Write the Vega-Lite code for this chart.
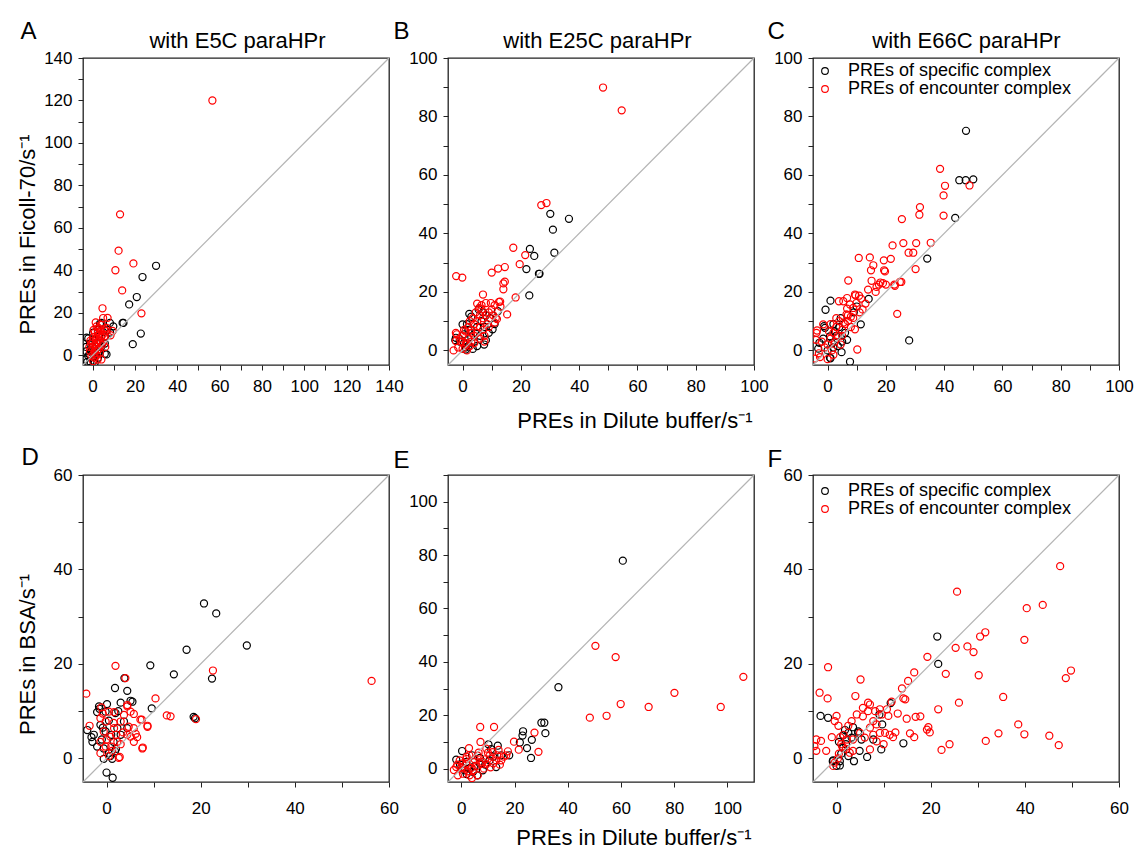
{
"$schema":"https://vega.github.io/schema/vega-lite/v6.json",
"background":"white",
"padding":{"left":15,"top":18,"right":0,"bottom":0},
"datasets":{
"A":[
{"x":30,"y":42.2,"t":"s"},{"x":23.6,"y":36.9,"t":"s"},{"x":20.9,"y":27.5,"t":"s"},{"x":17.3,"y":24,"t":"s"},{"x":14.6,"y":15.3,"t":"s"},{"x":14.2,"y":15.3,"t":"s"},{"x":22.8,"y":10.3,"t":"s"},{"x":19,"y":5.3,"t":"s"},{"x":8.3,"y":10.8,"t":"s"},{"x":5.8,"y":0.8,"t":"s"},{"x":3.5,"y":15,"t":"s"},{"x":-2.8,"y":8.4,"t":"s"},{"x":9.8,"y":13.7,"t":"s"},{"x":8.2,"y":15.3,"t":"s"},{"x":-2,"y":-0.3,"t":"s"},{"x":-3.6,"y":-1.9,"t":"s"},{"x":-2.9,"y":2,"t":"s"},{"x":-1.2,"y":5.6,"t":"s"},{"x":6.6,"y":0.5,"t":"s"},{"x":5.8,"y":5.6,"t":"s"},{"x":2.6,"y":-1.1,"t":"s"},{"x":0.3,"y":10.7,"t":"s"},{"x":4.2,"y":15.3,"t":"s"},{"x":-2,"y":8,"t":"s"},{"x":1,"y":3,"t":"s"},{"x":0,"y":1,"t":"s"},{"x":2,"y":6,"t":"s"},{"x":3,"y":9,"t":"s"},{"x":-1,"y":-3,"t":"s"},{"x":0.5,"y":-2.5,"t":"s"},{"x":1.5,"y":0.5,"t":"s"},{"x":4,"y":4,"t":"s"},{"x":2.5,"y":12,"t":"s"},{"x":-0.5,"y":2,"t":"s"},{"x":1,"y":7.5,"t":"s"},{"x":6,"y":9,"t":"s"},{"x":7,"y":12,"t":"s"},{"x":3,"y":1.5,"t":"s"},{"x":-3,"y":4,"t":"s"},{"x":-1.5,"y":0.5,"t":"s"},{"x":0,"y":4,"t":"s"},{"x":5,"y":11,"t":"s"},{"x":-2.5,"y":-3,"t":"s"},{"x":1,"y":-3.5,"t":"s"},{"x":3.5,"y":7,"t":"s"},
{"x":56.6,"y":120,"t":"e"},{"x":13,"y":66.4,"t":"e"},{"x":12.3,"y":49.3,"t":"e"},{"x":10.8,"y":40.1,"t":"e"},{"x":19.3,"y":43.3,"t":"e"},{"x":14,"y":30.6,"t":"e"},{"x":23.1,"y":19.8,"t":"e"},{"x":4.7,"y":22.2,"t":"e"},{"x":7.1,"y":17.7,"t":"e"},{"x":5,"y":17.6,"t":"e"},{"x":1.9,"y":13.7,"t":"e"},{"x":4.2,"y":14.4,"t":"e"},{"x":6.6,"y":13,"t":"e"},{"x":3.4,"y":12.2,"t":"e"},{"x":1.1,"y":10.8,"t":"e"},{"x":0.3,"y":8.5,"t":"e"},{"x":1.9,"y":6.2,"t":"e"},{"x":1.1,"y":2,"t":"e"},{"x":-0.5,"y":-0.3,"t":"e"},{"x":3.5,"y":1.3,"t":"e"},{"x":4.2,"y":-1.9,"t":"e"},{"x":5,"y":6,"t":"e"},{"x":5.8,"y":9.1,"t":"e"},{"x":6.6,"y":11.4,"t":"e"},{"x":-0.5,"y":5.6,"t":"e"},{"x":2.6,"y":9.3,"t":"e"},{"x":-1.2,"y":2,"t":"e"},{"x":0.3,"y":-2.7,"t":"e"},{"x":2,"y":4,"t":"e"},{"x":3,"y":7,"t":"e"},{"x":1,"y":1,"t":"e"},{"x":2.5,"y":11,"t":"e"},{"x":4,"y":8.5,"t":"e"},{"x":0,"y":3.5,"t":"e"},{"x":1.5,"y":8,"t":"e"},{"x":3,"y":3,"t":"e"},{"x":0.5,"y":12,"t":"e"},{"x":2,"y":0,"t":"e"},{"x":-1,"y":7,"t":"e"},{"x":4.5,"y":5,"t":"e"},{"x":5.5,"y":12.5,"t":"e"},{"x":1,"y":5,"t":"e"},{"x":3.5,"y":10,"t":"e"},{"x":2.2,"y":2.5,"t":"e"},{"x":0.8,"y":-1,"t":"e"},{"x":-1.5,"y":4,"t":"e"},{"x":2.8,"y":13,"t":"e"},{"x":9.5,"y":11.5,"t":"e"},{"x":8.5,"y":9.5,"t":"e"},{"x":6,"y":4,"t":"e"},{"x":1.5,"y":15.5,"t":"e"},{"x":3.8,"y":5.8,"t":"e"},{"x":0.2,"y":6.8,"t":"e"},{"x":2.4,"y":-2,"t":"e"},{"x":4.8,"y":9.8,"t":"e"}
],
"B":[
{"x":30.1,"y":46.7,"t":"s"},{"x":36.5,"y":45,"t":"s"},{"x":31,"y":41.3,"t":"s"},{"x":23.1,"y":34.7,"t":"s"},{"x":24.6,"y":32.3,"t":"s"},{"x":31.5,"y":33.4,"t":"s"},{"x":21.9,"y":27.8,"t":"s"},{"x":26.2,"y":26.2,"t":"s"},{"x":26.4,"y":26.2,"t":"s"},{"x":22.9,"y":18.8,"t":"s"},{"x":12.1,"y":13.4,"t":"s"},{"x":2.3,"y":12.5,"t":"s"},{"x":0,"y":8.9,"t":"s"},{"x":-2.3,"y":4.3,"t":"s"},{"x":4.5,"y":6,"t":"s"},{"x":10.3,"y":7.2,"t":"s"},{"x":7.4,"y":2,"t":"s"},{"x":1.1,"y":0.3,"t":"s"},{"x":1.5,"y":9,"t":"s"},{"x":3,"y":11.5,"t":"s"},{"x":5,"y":8,"t":"s"},{"x":6,"y":5,"t":"s"},{"x":8,"y":3.5,"t":"s"},{"x":9,"y":6,"t":"s"},{"x":11,"y":9,"t":"s"},{"x":2,"y":1.5,"t":"s"},{"x":3.5,"y":0.5,"t":"s"},{"x":0.5,"y":2.5,"t":"s"},{"x":-1,"y":3,"t":"s"},{"x":4,"y":3,"t":"s"},{"x":6.5,"y":10,"t":"s"},{"x":8,"y":12,"t":"s"},{"x":7,"y":13,"t":"s"},{"x":0.5,"y":5.5,"t":"s"},{"x":2,"y":7,"t":"s"},{"x":5,"y":1.5,"t":"s"},{"x":3,"y":4.5,"t":"s"},{"x":1,"y":1,"t":"s"},{"x":-2.5,"y":3.5,"t":"s"},{"x":9.5,"y":11,"t":"s"},{"x":5.5,"y":14,"t":"s"},{"x":7.5,"y":8,"t":"s"},
{"x":48.2,"y":89.9,"t":"e"},{"x":54.6,"y":82.1,"t":"e"},{"x":27,"y":49.7,"t":"e"},{"x":28.8,"y":50.4,"t":"e"},{"x":17.4,"y":35.1,"t":"e"},{"x":21.5,"y":32.6,"t":"e"},{"x":19.6,"y":29.5,"t":"e"},{"x":10,"y":26.6,"t":"e"},{"x":12.2,"y":28,"t":"e"},{"x":14.5,"y":28.5,"t":"e"},{"x":-2.2,"y":25.4,"t":"e"},{"x":-0.1,"y":24.9,"t":"e"},{"x":14.5,"y":23.5,"t":"e"},{"x":14,"y":22.9,"t":"e"},{"x":14,"y":20.9,"t":"e"},{"x":18.2,"y":18.1,"t":"e"},{"x":7,"y":19.1,"t":"e"},{"x":15.3,"y":12.3,"t":"e"},{"x":12.9,"y":16.7,"t":"e"},{"x":-3.1,"y":0,"t":"e"},{"x":9.7,"y":16.2,"t":"e"},{"x":12.5,"y":16.6,"t":"e"},{"x":8,"y":16.2,"t":"e"},{"x":5.7,"y":14.5,"t":"e"},{"x":11.4,"y":11.1,"t":"e"},{"x":11.8,"y":10.7,"t":"e"},{"x":-2.3,"y":6,"t":"e"},{"x":-2.3,"y":3.2,"t":"e"},{"x":1.1,"y":2,"t":"e"},{"x":0,"y":5,"t":"e"},{"x":1,"y":6.5,"t":"e"},{"x":2,"y":4,"t":"e"},{"x":3,"y":7,"t":"e"},{"x":4,"y":9,"t":"e"},{"x":5,"y":10,"t":"e"},{"x":6,"y":8,"t":"e"},{"x":7,"y":11,"t":"e"},{"x":8,"y":12,"t":"e"},{"x":9,"y":13,"t":"e"},{"x":10,"y":14,"t":"e"},{"x":3,"y":3,"t":"e"},{"x":2,"y":8,"t":"e"},{"x":4,"y":5,"t":"e"},{"x":6,"y":12,"t":"e"},{"x":7,"y":7,"t":"e"},{"x":5,"y":6,"t":"e"},{"x":-1,"y":4,"t":"e"},{"x":0.5,"y":7,"t":"e"},{"x":1.5,"y":2.5,"t":"e"},{"x":3.5,"y":11,"t":"e"},{"x":6.5,"y":14,"t":"e"},{"x":8.5,"y":9,"t":"e"},{"x":10.5,"y":12,"t":"e"},{"x":13,"y":15,"t":"e"},{"x":4.5,"y":13,"t":"e"},{"x":2.5,"y":10,"t":"e"},{"x":-2,"y":5.5,"t":"e"},{"x":-1.5,"y":1,"t":"e"},{"x":0,"y":0.5,"t":"e"},{"x":1.5,"y":0,"t":"e"},{"x":2.5,"y":1.5,"t":"e"},{"x":4,"y":2.5,"t":"e"},{"x":6,"y":4,"t":"e"},{"x":7.5,"y":5,"t":"e"},{"x":9,"y":8,"t":"e"},{"x":11,"y":9.5,"t":"e"},{"x":5,"y":16,"t":"e"},{"x":3,"y":6,"t":"e"},{"x":-0.5,"y":3,"t":"e"},{"x":7.5,"y":3,"t":"e"},{"x":6.5,"y":15.5,"t":"e"},{"x":11,"y":15.5,"t":"e"}
],
"C":[
{"x":47.5,"y":75.1,"t":"s"},{"x":45.2,"y":58.2,"t":"s"},{"x":47.4,"y":58.2,"t":"s"},{"x":50,"y":58.5,"t":"s"},{"x":43.8,"y":45.3,"t":"s"},{"x":34.2,"y":31.4,"t":"s"},{"x":28,"y":3.4,"t":"s"},{"x":14.1,"y":17.6,"t":"s"},{"x":11.4,"y":8.9,"t":"s"},{"x":1,"y":17,"t":"s"},{"x":-0.7,"y":13.9,"t":"s"},{"x":6.7,"y":3.6,"t":"s"},{"x":4.8,"y":-0.6,"t":"s"},{"x":7.7,"y":-3.9,"t":"s"},{"x":1,"y":-2.7,"t":"s"},{"x":-3.2,"y":0.6,"t":"s"},{"x":-2.8,"y":2.6,"t":"s"},{"x":-1.2,"y":8.3,"t":"s"},{"x":-0.9,"y":7.7,"t":"s"},{"x":0.8,"y":4.8,"t":"s"},{"x":0.8,"y":-2.5,"t":"s"},{"x":2,"y":1,"t":"s"},{"x":3,"y":5,"t":"s"},{"x":4,"y":8,"t":"s"},{"x":5,"y":3,"t":"s"},{"x":2.5,"y":6.5,"t":"s"},{"x":1.5,"y":2.5,"t":"s"},{"x":-1.5,"y":4,"t":"s"},{"x":3.5,"y":1.5,"t":"s"},{"x":6,"y":6,"t":"s"},{"x":9,"y":13,"t":"s"},{"x":10,"y":15,"t":"s"},{"x":0,"y":0,"t":"s"},{"x":2,"y":9,"t":"s"},{"x":4.5,"y":11,"t":"s"},
{"x":38.6,"y":62.1,"t":"e"},{"x":40.3,"y":56.3,"t":"e"},{"x":48.7,"y":56.4,"t":"e"},{"x":39.8,"y":53,"t":"e"},{"x":31.7,"y":49,"t":"e"},{"x":31.5,"y":46.4,"t":"e"},{"x":39.8,"y":46.1,"t":"e"},{"x":25.5,"y":44.9,"t":"e"},{"x":22.3,"y":35.9,"t":"e"},{"x":26,"y":36.7,"t":"e"},{"x":30.4,"y":36.7,"t":"e"},{"x":35.4,"y":36.8,"t":"e"},{"x":27.8,"y":33.4,"t":"e"},{"x":29.4,"y":33.4,"t":"e"},{"x":30.2,"y":27.8,"t":"e"},{"x":10.7,"y":31.6,"t":"e"},{"x":14.5,"y":31.8,"t":"e"},{"x":19.3,"y":30.8,"t":"e"},{"x":21.7,"y":31.3,"t":"e"},{"x":15.7,"y":29.1,"t":"e"},{"x":14.9,"y":27.4,"t":"e"},{"x":19.4,"y":27.4,"t":"e"},{"x":23.1,"y":22.1,"t":"e"},{"x":25.3,"y":23.4,"t":"e"},{"x":23.9,"y":12.5,"t":"e"},{"x":7.1,"y":23.9,"t":"e"},{"x":15.1,"y":23.8,"t":"e"},{"x":16.8,"y":21.7,"t":"e"},{"x":17.6,"y":22.5,"t":"e"},{"x":19,"y":23,"t":"e"},{"x":18.1,"y":23.2,"t":"e"},{"x":13.9,"y":20.8,"t":"e"},{"x":10.2,"y":0.3,"t":"e"},{"x":9.6,"y":18.8,"t":"e"},{"x":11.5,"y":17.7,"t":"e"},{"x":5.4,"y":16.8,"t":"e"},{"x":6.7,"y":17.9,"t":"e"},{"x":6.7,"y":14.3,"t":"e"},{"x":8.8,"y":11.1,"t":"e"},{"x":9.4,"y":7.2,"t":"e"},{"x":-4.4,"y":-2.8,"t":"e"},{"x":-3.8,"y":6,"t":"e"},{"x":-4,"y":3.6,"t":"e"},{"x":19.7,"y":27,"t":"e"},{"x":24.8,"y":23.4,"t":"e"},{"x":22.9,"y":22.5,"t":"e"},{"x":9.4,"y":19.1,"t":"e"},{"x":10.8,"y":18.7,"t":"e"},{"x":3.9,"y":16.8,"t":"e"},{"x":7.7,"y":15.7,"t":"e"},{"x":8.8,"y":14.5,"t":"e"},{"x":9.9,"y":16.2,"t":"e"},{"x":6.5,"y":12.3,"t":"e"},{"x":7,"y":10,"t":"e"},{"x":8,"y":11.5,"t":"e"},{"x":5.5,"y":9.5,"t":"e"},{"x":-1.5,"y":8.9,"t":"e"},{"x":-3.6,"y":6.8,"t":"e"},{"x":-2.6,"y":-2.3,"t":"e"},{"x":0,"y":2,"t":"e"},{"x":1,"y":4,"t":"e"},{"x":2,"y":6,"t":"e"},{"x":3,"y":8,"t":"e"},{"x":4,"y":10,"t":"e"},{"x":5,"y":7,"t":"e"},{"x":6,"y":9,"t":"e"},{"x":7,"y":12,"t":"e"},{"x":1.5,"y":0,"t":"e"},{"x":2.5,"y":3,"t":"e"},{"x":3.5,"y":5,"t":"e"},{"x":-1,"y":1,"t":"e"},{"x":0.5,"y":6.5,"t":"e"},{"x":4.5,"y":2,"t":"e"},{"x":-2,"y":3,"t":"e"},{"x":1,"y":9,"t":"e"},{"x":3,"y":11,"t":"e"},{"x":12,"y":14,"t":"e"},{"x":13,"y":16,"t":"e"},{"x":11,"y":13,"t":"e"},{"x":8,"y":8,"t":"e"},{"x":-3,"y":-1,"t":"e"},{"x":2,"y":-1.5,"t":"e"},{"x":5,"y":5,"t":"e"},{"x":0,"y":-3,"t":"e"},{"x":16.5,"y":20,"t":"e"},{"x":20,"y":22.5,"t":"e"}
],
"D":[
{"x":20.7,"y":32.8,"t":"s"},{"x":23.3,"y":30.7,"t":"s"},{"x":29.8,"y":23.9,"t":"s"},{"x":17,"y":23,"t":"s"},{"x":9.3,"y":19.7,"t":"s"},{"x":14.3,"y":17.8,"t":"s"},{"x":22.4,"y":16.9,"t":"s"},{"x":18.5,"y":8.8,"t":"s"},{"x":18.8,"y":8.5,"t":"s"},{"x":9.6,"y":10.6,"t":"s"},{"x":3.8,"y":17,"t":"s"},{"x":4.4,"y":14.3,"t":"s"},{"x":1.8,"y":14.9,"t":"s"},{"x":5.1,"y":12.2,"t":"s"},{"x":5.5,"y":12,"t":"s"},{"x":3,"y":11.8,"t":"s"},{"x":0,"y":-3,"t":"s"},{"x":1.3,"y":-4.1,"t":"s"},{"x":-4.1,"y":6,"t":"s"},{"x":0.1,"y":11.5,"t":"s"},{"x":-1.6,"y":11,"t":"s"},{"x":-2,"y":9.8,"t":"s"},{"x":-0.2,"y":9.9,"t":"s"},{"x":1.9,"y":9.6,"t":"s"},{"x":-3,"y":3.5,"t":"s"},{"x":-2.7,"y":5,"t":"s"},{"x":-1.3,"y":7.1,"t":"s"},{"x":-0.2,"y":5.7,"t":"s"},{"x":-0.6,"y":2.1,"t":"s"},{"x":0.5,"y":1.1,"t":"s"},{"x":1.2,"y":-0.1,"t":"s"},{"x":-0.6,"y":-0.1,"t":"s"},{"x":3,"y":5,"t":"s"},{"x":1.5,"y":3.5,"t":"s"},{"x":3.7,"y":7.8,"t":"s"},{"x":4.4,"y":6.4,"t":"s"},{"x":2.3,"y":6.4,"t":"s"},{"x":-1,"y":4,"t":"s"},{"x":0.5,"y":8,"t":"s"},{"x":2,"y":2,"t":"s"},{"x":-2,"y":2.5,"t":"s"},{"x":1,"y":5,"t":"s"},{"x":-1.5,"y":10.5,"t":"s"},{"x":2.5,"y":10,"t":"s"},{"x":0.8,"y":0.5,"t":"s"},{"x":1.8,"y":1.5,"t":"s"},{"x":-3.2,"y":4.5,"t":"s"},{"x":-0.8,"y":6.5,"t":"s"},
{"x":56.3,"y":16.4,"t":"e"},{"x":22.6,"y":18.6,"t":"e"},{"x":19,"y":8.3,"t":"e"},{"x":12.8,"y":9.1,"t":"e"},{"x":13.6,"y":8.9,"t":"e"},{"x":10.4,"y":12.7,"t":"e"},{"x":8.7,"y":6.9,"t":"e"},{"x":7.7,"y":2.3,"t":"e"},{"x":7.5,"y":8.2,"t":"e"},{"x":1.9,"y":19.6,"t":"e"},{"x":4,"y":17,"t":"e"},{"x":-4.3,"y":13.7,"t":"e"},{"x":-3.6,"y":6.9,"t":"e"},{"x":2.8,"y":0.3,"t":"e"},{"x":4.4,"y":11.3,"t":"e"},{"x":-1.1,"y":10.8,"t":"e"},{"x":0.5,"y":9.9,"t":"e"},{"x":1.6,"y":9.8,"t":"e"},{"x":4.4,"y":11,"t":"e"},{"x":5.1,"y":9.9,"t":"e"},{"x":5.8,"y":9.4,"t":"e"},{"x":7.2,"y":8.2,"t":"e"},{"x":8.7,"y":6.7,"t":"e"},{"x":-1.3,"y":8.5,"t":"e"},{"x":-0.2,"y":7.8,"t":"e"},{"x":1.6,"y":6.4,"t":"e"},{"x":3,"y":7.8,"t":"e"},{"x":4.7,"y":6.7,"t":"e"},{"x":5.8,"y":6.4,"t":"e"},{"x":5.1,"y":4.6,"t":"e"},{"x":6.2,"y":5.2,"t":"e"},{"x":7.6,"y":2.1,"t":"e"},{"x":-0.6,"y":5.7,"t":"e"},{"x":0.8,"y":4.6,"t":"e"},{"x":-1.3,"y":3.5,"t":"e"},{"x":-0.2,"y":2.5,"t":"e"},{"x":2.3,"y":3.5,"t":"e"},{"x":-1.3,"y":1.1,"t":"e"},{"x":1.2,"y":1.6,"t":"e"},{"x":2.6,"y":0.1,"t":"e"},{"x":3.7,"y":9.2,"t":"e"},{"x":4.4,"y":5,"t":"e"},{"x":5.8,"y":3.5,"t":"e"},{"x":0,"y":4,"t":"e"},{"x":1,"y":2.5,"t":"e"},{"x":2,"y":5,"t":"e"},{"x":3,"y":3,"t":"e"},{"x":1.5,"y":7.5,"t":"e"},{"x":0.5,"y":0.5,"t":"e"},{"x":-0.8,"y":9.5,"t":"e"},{"x":3.5,"y":5.5,"t":"e"},{"x":6.5,"y":4.5,"t":"e"}
],
"E":[
{"x":60.7,"y":77.9,"t":"s"},{"x":36.5,"y":30.5,"t":"s"},{"x":30.1,"y":17.2,"t":"s"},{"x":31.2,"y":17.2,"t":"s"},{"x":31.6,"y":13.3,"t":"s"},{"x":23.2,"y":14,"t":"s"},{"x":23,"y":12.4,"t":"s"},{"x":26.5,"y":10.8,"t":"s"},{"x":22,"y":9.8,"t":"s"},{"x":24.7,"y":7.7,"t":"s"},{"x":26.2,"y":4,"t":"s"},{"x":18,"y":5,"t":"s"},{"x":0.3,"y":6.6,"t":"s"},{"x":10.2,"y":9.1,"t":"s"},{"x":-1.9,"y":3.4,"t":"s"},{"x":1.9,"y":2.5,"t":"s"},{"x":6.9,"y":2,"t":"s"},{"x":10.6,"y":3.1,"t":"s"},{"x":13.1,"y":0.6,"t":"s"},{"x":8.1,"y":-0.6,"t":"s"},{"x":4.4,"y":-1.2,"t":"s"},{"x":1.3,"y":-0.6,"t":"s"},{"x":11.2,"y":7.3,"t":"s"},{"x":13.7,"y":8.6,"t":"s"},{"x":3,"y":0,"t":"s"},{"x":5,"y":1,"t":"s"},{"x":0,"y":0.5,"t":"s"},{"x":2,"y":-2,"t":"s"},{"x":7,"y":4,"t":"s"},{"x":9,"y":1.5,"t":"s"},{"x":12,"y":4.5,"t":"s"},{"x":15,"y":5,"t":"s"},{"x":4,"y":5,"t":"s"},{"x":-0.5,"y":1.5,"t":"s"},{"x":6,"y":-2.5,"t":"s"},
{"x":106,"y":34.4,"t":"e"},{"x":50.4,"y":46,"t":"e"},{"x":58,"y":41.8,"t":"e"},{"x":59.9,"y":24.2,"t":"e"},{"x":80.1,"y":28.4,"t":"e"},{"x":70.4,"y":23.1,"t":"e"},{"x":97.5,"y":23.1,"t":"e"},{"x":54.6,"y":19.8,"t":"e"},{"x":48.3,"y":19.1,"t":"e"},{"x":27.5,"y":13.5,"t":"e"},{"x":29,"y":6.3,"t":"e"},{"x":19.8,"y":10.1,"t":"e"},{"x":21.6,"y":7.1,"t":"e"},{"x":7.1,"y":15.6,"t":"e"},{"x":12.3,"y":15.6,"t":"e"},{"x":7.2,"y":10,"t":"e"},{"x":2.9,"y":7.7,"t":"e"},{"x":9.4,"y":7.5,"t":"e"},{"x":11.8,"y":6.2,"t":"e"},{"x":13.5,"y":5,"t":"e"},{"x":16.9,"y":5,"t":"e"},{"x":15,"y":3.1,"t":"e"},{"x":10.6,"y":4.9,"t":"e"},{"x":6.2,"y":4.9,"t":"e"},{"x":4.4,"y":2.5,"t":"e"},{"x":1.9,"y":3.6,"t":"e"},{"x":-0.6,"y":3.1,"t":"e"},{"x":-1.9,"y":0.6,"t":"e"},{"x":-0.1,"y":0.3,"t":"e"},{"x":1.9,"y":1.7,"t":"e"},{"x":3.8,"y":0.3,"t":"e"},{"x":5.6,"y":0.9,"t":"e"},{"x":7.5,"y":1.7,"t":"e"},{"x":0.6,"y":-1.9,"t":"e"},{"x":3.1,"y":-2.5,"t":"e"},{"x":6.2,"y":-2.5,"t":"e"},{"x":-1.3,"y":-2.5,"t":"e"},{"x":13.1,"y":3.1,"t":"e"},{"x":9.4,"y":1.7,"t":"e"},{"x":-2.8,"y":-0.5,"t":"e"},{"x":1,"y":0,"t":"e"},{"x":2.5,"y":-1,"t":"e"},{"x":4.5,"y":-0.5,"t":"e"},{"x":8,"y":2.5,"t":"e"},{"x":10,"y":6,"t":"e"},{"x":12,"y":2,"t":"e"},{"x":14,"y":7,"t":"e"},{"x":16,"y":4.5,"t":"e"},{"x":17.5,"y":6.5,"t":"e"},{"x":5,"y":3.5,"t":"e"},{"x":3,"y":5,"t":"e"},{"x":0.5,"y":2,"t":"e"},{"x":-1.5,"y":1.5,"t":"e"},{"x":2,"y":4.5,"t":"e"},{"x":8.5,"y":0,"t":"e"},{"x":11,"y":0.5,"t":"e"},{"x":4,"y":-3.5,"t":"e"},{"x":6.5,"y":6,"t":"e"},{"x":9,"y":3.5,"t":"e"},{"x":14.5,"y":1.5,"t":"e"}
],
"F":[
{"x":21.4,"y":25.8,"t":"s"},{"x":21.6,"y":20,"t":"s"},{"x":11.5,"y":11.7,"t":"s"},{"x":14.2,"y":3.2,"t":"s"},{"x":-3.4,"y":9,"t":"s"},{"x":-1.8,"y":8.6,"t":"s"},{"x":9.7,"y":7.2,"t":"s"},{"x":7.8,"y":4,"t":"s"},{"x":9.5,"y":1.9,"t":"s"},{"x":6.5,"y":0.3,"t":"s"},{"x":3.7,"y":-0.6,"t":"s"},{"x":-0.8,"y":-0.6,"t":"s"},{"x":0.7,"y":-1.5,"t":"s"},{"x":4.6,"y":5.4,"t":"s"},{"x":9.1,"y":9.3,"t":"s"},{"x":0,"y":-1.6,"t":"s"},{"x":0.7,"y":-0.6,"t":"s"},{"x":-0.7,"y":-0.4,"t":"s"},{"x":1.4,"y":2.2,"t":"s"},{"x":3.2,"y":4.4,"t":"s"},{"x":2.5,"y":5.4,"t":"s"},{"x":4.6,"y":5.7,"t":"s"},{"x":5.3,"y":4,"t":"s"},{"x":4.9,"y":1.6,"t":"s"},{"x":1.4,"y":4.9,"t":"s"},{"x":3.5,"y":6.6,"t":"s"},{"x":2,"y":3,"t":"s"},{"x":1,"y":1,"t":"s"},{"x":0.5,"y":3.5,"t":"s"},{"x":2.5,"y":0.5,"t":"s"},{"x":1.8,"y":6,"t":"s"},
{"x":47.5,"y":40.7,"t":"e"},{"x":25.6,"y":35.3,"t":"e"},{"x":43.8,"y":32.5,"t":"e"},{"x":40.4,"y":31.8,"t":"e"},{"x":31.6,"y":26.7,"t":"e"},{"x":30.5,"y":25.8,"t":"e"},{"x":39.9,"y":25.1,"t":"e"},{"x":25.3,"y":23.4,"t":"e"},{"x":27.8,"y":23.7,"t":"e"},{"x":29.1,"y":22.5,"t":"e"},{"x":19.3,"y":21.5,"t":"e"},{"x":23.2,"y":17.9,"t":"e"},{"x":30.2,"y":17.6,"t":"e"},{"x":49.8,"y":18.6,"t":"e"},{"x":48.7,"y":17,"t":"e"},{"x":35.4,"y":13,"t":"e"},{"x":26,"y":11.8,"t":"e"},{"x":21.6,"y":10.4,"t":"e"},{"x":-1.8,"y":19.3,"t":"e"},{"x":5.1,"y":16.7,"t":"e"},{"x":16.5,"y":18.2,"t":"e"},{"x":15.2,"y":16.4,"t":"e"},{"x":13.9,"y":14.8,"t":"e"},{"x":14.2,"y":12.7,"t":"e"},{"x":14.6,"y":12.5,"t":"e"},{"x":-3.6,"y":13.9,"t":"e"},{"x":-1.9,"y":12.7,"t":"e"},{"x":4,"y":13.2,"t":"e"},{"x":14.9,"y":8.4,"t":"e"},{"x":16.8,"y":8.8,"t":"e"},{"x":17.8,"y":8.9,"t":"e"},{"x":19.2,"y":6.1,"t":"e"},{"x":19.8,"y":5.5,"t":"e"},{"x":19.5,"y":6.6,"t":"e"},{"x":15.6,"y":5.3,"t":"e"},{"x":16.5,"y":4.5,"t":"e"},{"x":38.6,"y":7.2,"t":"e"},{"x":34.4,"y":5.3,"t":"e"},{"x":39.9,"y":5.1,"t":"e"},{"x":45.2,"y":4.8,"t":"e"},{"x":31.7,"y":3.7,"t":"e"},{"x":47.2,"y":2.8,"t":"e"},{"x":24,"y":3,"t":"e"},{"x":22.3,"y":1.8,"t":"e"},{"x":6.7,"y":11.8,"t":"e"},{"x":7.1,"y":11.4,"t":"e"},{"x":6.7,"y":10,"t":"e"},{"x":5.6,"y":10.7,"t":"e"},{"x":8.2,"y":10,"t":"e"},{"x":9.2,"y":10.4,"t":"e"},{"x":10.7,"y":10.4,"t":"e"},{"x":9.6,"y":9.3,"t":"e"},{"x":11,"y":9,"t":"e"},{"x":4.3,"y":9.3,"t":"e"},{"x":3.2,"y":7.9,"t":"e"},{"x":2.5,"y":6.9,"t":"e"},{"x":5.6,"y":8.9,"t":"e"},{"x":7.8,"y":7.9,"t":"e"},{"x":8.5,"y":7.2,"t":"e"},{"x":7.1,"y":6.5,"t":"e"},{"x":5,"y":5.4,"t":"e"},{"x":6,"y":4.4,"t":"e"},{"x":3.5,"y":4,"t":"e"},{"x":7.8,"y":5,"t":"e"},{"x":9.2,"y":5.4,"t":"e"},{"x":10.3,"y":5.4,"t":"e"},{"x":11.3,"y":5,"t":"e"},{"x":8.5,"y":3.6,"t":"e"},{"x":7.1,"y":1.9,"t":"e"},{"x":3.5,"y":1.6,"t":"e"},{"x":2.8,"y":1.2,"t":"e"},{"x":-0.4,"y":-0.9,"t":"e"},{"x":-0.7,"y":-1.6,"t":"e"},{"x":-4.3,"y":4,"t":"e"},{"x":-4.7,"y":2.6,"t":"e"},{"x":-4.3,"y":1.6,"t":"e"},{"x":-3.3,"y":3.7,"t":"e"},{"x":-2.2,"y":1.6,"t":"e"},{"x":-0.4,"y":7.9,"t":"e"},{"x":0.4,"y":6.9,"t":"e"},{"x":0.5,"y":1,"t":"e"},{"x":1,"y":3,"t":"e"},{"x":1.5,"y":5,"t":"e"},{"x":2,"y":2,"t":"e"},{"x":0.8,"y":4.5,"t":"e"},{"x":1.2,"y":2.5,"t":"e"},{"x":2.2,"y":4,"t":"e"},{"x":0,"y":9,"t":"e"},{"x":-1,"y":4.5,"t":"e"},{"x":0.3,"y":0,"t":"e"},{"x":12,"y":4.5,"t":"e"},{"x":12.5,"y":5.5,"t":"e"},{"x":10,"y":3,"t":"e"},{"x":13,"y":9.5,"t":"e"},{"x":11.7,"y":12,"t":"e"}
],
"dA":[{"x":-4.5,"y":-4.5},{"x":140,"y":140}],
"dB":[{"x":-5,"y":-5},{"x":100,"y":100}],
"dD":[{"x":-5,"y":-5},{"x":60,"y":60}],
"dE":[{"x":-5,"y":-5},{"x":110,"y":110}]
},
"columns":3,
"spacing":{"row":110,"column":59},
"bounds":"flush",
"resolve":{"scale":{"color":"independent"}},
"concat":[
{"width":306,"height":307,
 "layer":[
  {"data":{"name":"A"},"mark":{"type":"point","shape":"circle","filled":false,"size":50,"strokeWidth":1.2,"opacity":1,"clip":true},
   "encoding":{
    "x":{"field":"x","type":"quantitative","scale":{"domain":[-4.5,140],"nice":false,"zero":false},"axis":{"values":[0,10,20,30,40,50,60,70,80,90,100,110,120,130,140],"labelExpr":"datum.value % 20 === 0 ? datum.label : ''","title":null,"labelPadding":8}},
    "y":{"field":"y","type":"quantitative","scale":{"domain":[-4.5,140],"nice":false,"zero":false},"axis":{"values":[0,10,20,30,40,50,60,70,80,90,100,110,120,130,140],"labelExpr":"datum.value % 20 === 0 ? datum.label : ''","title":"PREs in Ficoll-70/s⁻¹","titleX":-44,"titleY":176,"labelPadding":6}},
    "color":{"field":"t","type":"nominal","scale":{"domain":["s","e"],"range":["#000000","#ff0000"]},"legend":null}}},
  {"data":{"name":"dA"},"mark":{"type":"line","color":"#b4b4b4","strokeWidth":1.2},
   "encoding":{
    "x":{"field":"x","type":"quantitative","axis":{"orient":"top","labels":false,"ticks":false,"domain":false,"title":"with E5C paraHPr","titleX":154,"titleY":-10.5,"titleBaseline":"alphabetic","titleAlign":"center"}},
    "y":{"field":"y","type":"quantitative","axis":{"orient":"left","labels":false,"ticks":false,"domain":false,"title":"A","titleAngle":0,"titleX":-63,"titleY":-20,"titleAlign":"left","titleBaseline":"alphabetic","titleFontSize":24}}}}
 ],
 "resolve":{"axis":{"x":"independent","y":"independent"}}},
{"width":306,"height":307,
 "layer":[
  {"data":{"name":"B"},"mark":{"type":"point","shape":"circle","filled":false,"size":50,"strokeWidth":1.2,"opacity":1,"clip":true},
   "encoding":{
    "x":{"field":"x","type":"quantitative","scale":{"domain":[-5,100],"nice":false,"zero":false},"axis":{"values":[0,10,20,30,40,50,60,70,80,90,100],"labelExpr":"datum.value % 20 === 0 ? datum.label : ''","title":"PREs in Dilute buffer/s⁻¹","titleX":304,"titleY":62,"titleAlign":"right","titleBaseline":"alphabetic","labelPadding":8}},
    "y":{"field":"y","type":"quantitative","scale":{"domain":[-5,100],"nice":false,"zero":false},"axis":{"values":[0,10,20,30,40,50,60,70,80,90,100],"labelExpr":"datum.value % 20 === 0 ? datum.label : ''","title":null,"labelPadding":6}},
    "color":{"field":"t","type":"nominal","scale":{"domain":["s","e"],"range":["#000000","#ff0000"]},"legend":null}}},
  {"data":{"name":"dB"},"mark":{"type":"line","color":"#b4b4b4","strokeWidth":1.2},
   "encoding":{
    "x":{"field":"x","type":"quantitative","axis":{"orient":"top","labels":false,"ticks":false,"domain":false,"title":"with E25C paraHPr","titleX":149,"titleY":-10.5,"titleBaseline":"alphabetic","titleAlign":"center"}},
    "y":{"field":"y","type":"quantitative","axis":{"orient":"left","labels":false,"ticks":false,"domain":false,"title":"B","titleAngle":0,"titleX":-55,"titleY":-20,"titleAlign":"left","titleBaseline":"alphabetic","titleFontSize":24}}}}
 ],
 "resolve":{"axis":{"x":"independent","y":"independent"}}},
{"width":306,"height":307,
 "layer":[
  {"data":{"name":"C"},"mark":{"type":"point","shape":"circle","filled":false,"size":50,"strokeWidth":1.2,"opacity":1,"clip":true},
   "encoding":{
    "x":{"field":"x","type":"quantitative","scale":{"domain":[-5,100],"nice":false,"zero":false},"axis":{"values":[0,10,20,30,40,50,60,70,80,90,100],"labelExpr":"datum.value % 20 === 0 ? datum.label : ''","title":null,"labelPadding":8}},
    "y":{"field":"y","type":"quantitative","scale":{"domain":[-5,100],"nice":false,"zero":false},"axis":{"values":[0,10,20,30,40,50,60,70,80,90,100],"labelExpr":"datum.value % 20 === 0 ? datum.label : ''","title":null,"labelPadding":6}},
    "color":{"field":"t","type":"nominal","scale":{"domain":["s","e"],"range":["#000000","#ff0000"]},"legend":{"orient":"none","legendX":3,"legendY":4,"title":null,"labelLimit":0,"labelExpr":"datum.value == 's' ? 'PREs of specific complex' : 'PREs of encounter complex'"}}}},
  {"data":{"name":"dB"},"mark":{"type":"line","color":"#b4b4b4","strokeWidth":1.2},
   "encoding":{
    "x":{"field":"x","type":"quantitative","axis":{"orient":"top","labels":false,"ticks":false,"domain":false,"title":"with E66C paraHPr","titleX":153,"titleY":-10.5,"titleBaseline":"alphabetic","titleAlign":"center"}},
    "y":{"field":"y","type":"quantitative","axis":{"orient":"left","labels":false,"ticks":false,"domain":false,"title":"C","titleAngle":0,"titleX":-46,"titleY":-20,"titleAlign":"left","titleBaseline":"alphabetic","titleFontSize":24}}}}
 ],
 "resolve":{"axis":{"x":"independent","y":"independent"}}},
{"width":306,"height":307,
 "layer":[
  {"data":{"name":"D"},"mark":{"type":"point","shape":"circle","filled":false,"size":50,"strokeWidth":1.2,"opacity":1,"clip":true},
   "encoding":{
    "x":{"field":"x","type":"quantitative","scale":{"domain":[-5,60],"nice":false,"zero":false},"axis":{"values":[0,10,20,30,40,50,60],"labelExpr":"datum.value % 20 === 0 ? datum.label : ''","title":null,"labelPadding":13}},
    "y":{"field":"y","type":"quantitative","scale":{"domain":[-5,60],"nice":false,"zero":false},"axis":{"values":[0,10,20,30,40,50,60],"labelExpr":"datum.value % 20 === 0 ? datum.label : ''","title":"PREs in BSA/s⁻¹","titleX":-44,"titleY":179,"labelPadding":6}},
    "color":{"field":"t","type":"nominal","scale":{"domain":["s","e"],"range":["#000000","#ff0000"]},"legend":null}}},
  {"data":{"name":"dD"},"mark":{"type":"line","color":"#b4b4b4","strokeWidth":1.2},
   "encoding":{
    "x":{"field":"x","type":"quantitative"},
    "y":{"field":"y","type":"quantitative","axis":{"orient":"left","labels":false,"ticks":false,"domain":false,"title":"D","titleAngle":0,"titleX":-62,"titleY":-11,"titleAlign":"left","titleBaseline":"alphabetic","titleFontSize":24}}}}
 ],
 "resolve":{"axis":{"y":"independent"}}},
{"width":306,"height":307,
 "layer":[
  {"data":{"name":"E"},"mark":{"type":"point","shape":"circle","filled":false,"size":50,"strokeWidth":1.2,"opacity":1,"clip":true},
   "encoding":{
    "x":{"field":"x","type":"quantitative","scale":{"domain":[-5,110],"nice":false,"zero":false},"axis":{"values":[0,10,20,30,40,50,60,70,80,90,100,110],"labelExpr":"datum.value % 20 === 0 ? datum.label : ''","title":"PREs in Dilute buffer/s⁻¹","titleX":303,"titleY":62,"titleAlign":"right","titleBaseline":"alphabetic","labelPadding":13}},
    "y":{"field":"y","type":"quantitative","scale":{"domain":[-5,110],"nice":false,"zero":false},"axis":{"values":[0,10,20,30,40,50,60,70,80,90,100,110],"labelExpr":"datum.value % 20 === 0 ? datum.label : ''","title":null,"labelPadding":6}},
    "color":{"field":"t","type":"nominal","scale":{"domain":["s","e"],"range":["#000000","#ff0000"]},"legend":null}}},
  {"data":{"name":"dE"},"mark":{"type":"line","color":"#b4b4b4","strokeWidth":1.2},
   "encoding":{
    "x":{"field":"x","type":"quantitative"},
    "y":{"field":"y","type":"quantitative","axis":{"orient":"left","labels":false,"ticks":false,"domain":false,"title":"E","titleAngle":0,"titleX":-55,"titleY":-8,"titleAlign":"left","titleBaseline":"alphabetic","titleFontSize":24}}}}
 ],
 "resolve":{"axis":{"y":"independent"}}},
{"width":306,"height":307,
 "layer":[
  {"data":{"name":"F"},"mark":{"type":"point","shape":"circle","filled":false,"size":50,"strokeWidth":1.2,"opacity":1,"clip":true},
   "encoding":{
    "x":{"field":"x","type":"quantitative","scale":{"domain":[-5,60],"nice":false,"zero":false},"axis":{"values":[0,10,20,30,40,50,60],"labelExpr":"datum.value % 20 === 0 ? datum.label : ''","title":null,"labelPadding":13}},
    "y":{"field":"y","type":"quantitative","scale":{"domain":[-5,60],"nice":false,"zero":false},"axis":{"values":[0,10,20,30,40,50,60],"labelExpr":"datum.value % 20 === 0 ? datum.label : ''","title":null,"labelPadding":6}},
    "color":{"field":"t","type":"nominal","scale":{"domain":["s","e"],"range":["#000000","#ff0000"]},"legend":{"orient":"none","legendX":3,"legendY":7,"title":null,"labelLimit":0,"labelExpr":"datum.value == 's' ? 'PREs of specific complex' : 'PREs of encounter complex'"}}}},
  {"data":{"name":"dD"},"mark":{"type":"line","color":"#b4b4b4","strokeWidth":1.2},
   "encoding":{
    "x":{"field":"x","type":"quantitative"},
    "y":{"field":"y","type":"quantitative","axis":{"orient":"left","labels":false,"ticks":false,"domain":false,"title":"F","titleAngle":0,"titleX":-46,"titleY":-9,"titleAlign":"left","titleBaseline":"alphabetic","titleFontSize":24}}}}
 ],
 "resolve":{"axis":{"y":"independent"}}}
],
"config":{
 "font":"Liberation Sans",
 "view":{"stroke":"#222222","strokeWidth":1.3},
 "axis":{"grid":false,"domain":false,"tickColor":"#222222","tickSize":5,"tickWidth":1,"labelFontSize":17,"labelColor":"black","labelFlush":false,"labelOverlap":false,"labelBound":false,"titleFontSize":22,"titleFontWeight":"normal","titleColor":"black","minExtent":0},
 "legend":{"labelFontSize":18,"labelColor":"black","labelLimit":0,"symbolSize":45,"symbolStrokeWidth":1.1,"symbolType":"circle","labelOffset":14,"rowPadding":0,"padding":0,"symbolOpacity":1}
}
}
